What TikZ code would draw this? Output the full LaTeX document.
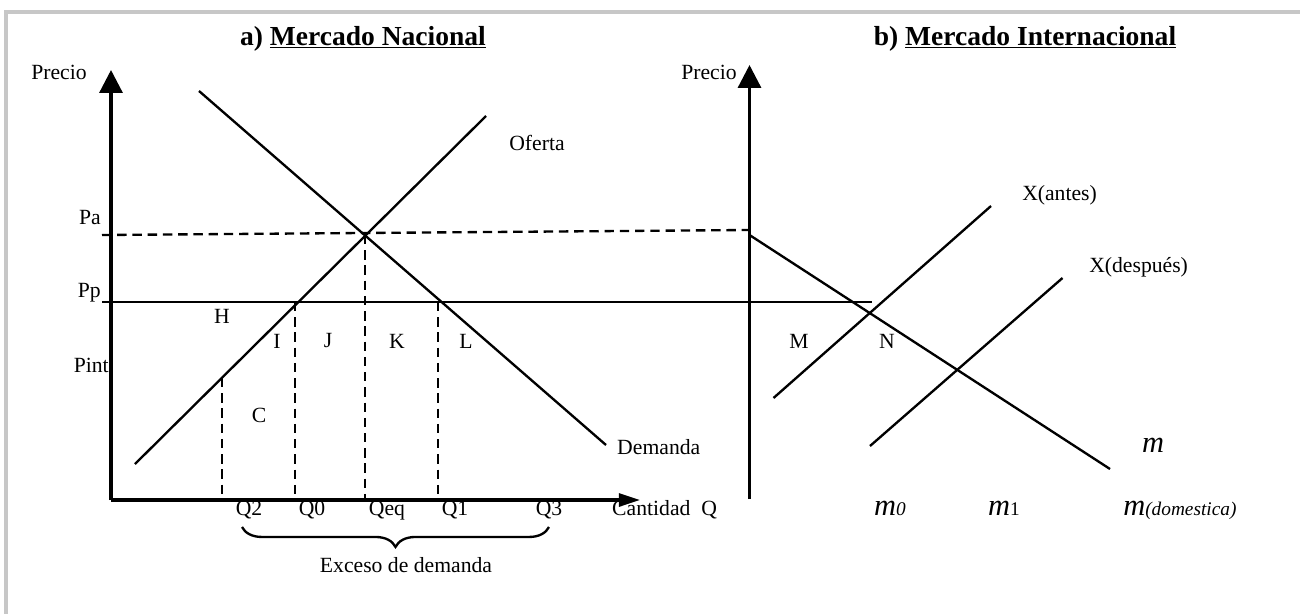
\documentclass[tikz,border=0pt]{standalone}
\usepackage{fontspec}
\setmainfont{Liberation Serif}
\usetikzlibrary{arrows.meta, decorations.pathreplacing}
\tikzset{
	eje/.style={line width=2.8pt, -{Triangle[length=19.6pt,width=19.6pt]}},
	ejeq/.style={line width=2.8pt, -{Triangle[length=18pt,width=11pt]}},
	curva/.style={line width=2pt},
	guia/.style={line width=2pt, dash pattern=on 8pt off 5pt},
	etq/.style={font=\fontsize{18.5}{20}\selectfont, inner sep=0pt},
	titulo/.style={font=\fontsize{23.5}{26}\selectfont\bfseries, inner sep=0pt},
	mgrande/.style={font=\fontsize{26}{28}\selectfont\itshape, inner sep=0pt},
}
\newcommand{\msub}[1]{{\fontsize{16.5}{18}\selectfont #1}}

\begin{document}
\begin{tikzpicture}[x=0.03cm, y=-0.03cm]
			\useasboundingbox (0,0) rectangle (1300,614);
			% marco gris
			\draw[line width=2.6pt, black!22] (1300,12) -- (6,12) -- (6,614);
			\def\ejeA{111}
			\def\ejeB{749.5}
			\def\base{500}
			\def\Pa{235}
			\def\Pp{302}
			% a) mercado nacional
			\coordinate (eq) at (365,\Pa);
			\draw[eje] (\ejeA,\base) -- (\ejeA,70);
			\draw[ejeq] (\ejeA,\base) -- (640,\base);
			\draw[curva] (135,464) -- (486,116);
			\draw[curva] (199,91) -- (606,445);
			\draw[guia] (102,\Pa) -- (\ejeB,230);
			\draw[curva, line width=2.5pt] (102,\Pp) -- (872,\Pp);
			\draw[guia] (222,378) -- (222,\base);
			\draw[guia] (295,\Pp) -- (295,\base);
			\draw[guia] (eq) -- (365,\base);
			\draw[guia] (438,\Pp) -- (438,\base);
			\draw[curva, decorate, decoration={brace, mirror, amplitude=17pt}] (242,527) -- (549,527);
			\node[titulo] (tituloA) at (363,39) {a) \underline{Mercado Nacional}};
			\node[etq] (precioA) at (59,72) {Precio};
			\node[etq] (oferta) at (537,143) {Oferta};
			\node[etq, anchor=east] (pa) at (101,218) {Pa};
			\node[etq, anchor=east] (pp) at (101,293) {Pp};
			\node[etq, anchor=east] (pint) at (109,365) {Pint};
			\node[etq] (h) at (222,316) {H};
			\node[etq] (i) at (277,341) {I};
			\node[etq] (j) at (328,341) {J};
			\node[etq] (k) at (397,341) {K};
			\node[etq] (l) at (466,341) {L};
			\node[etq] (c) at (259,415) {C};
			\node[etq, anchor=base] (q2) at (249,515) {Q2};
			\node[etq, anchor=base] (q0) at (312,515) {Q0};
			\node[etq, anchor=base] (qeq) at (387,515) {Qeq};
			\node[etq, anchor=base] (q1) at (455,515) {Q1};
			\node[etq, anchor=base] (q3) at (549,515) {Q3};
			\node[etq, anchor=base west] (cantidad) at (612,515) {Cantidad\ \ Q};
			\node[etq, anchor=west] (demanda) at (617,447) {Demanda};
			\node[etq] (exceso) at (406,565) {Exceso de demanda};
			% b) mercado internacional
			\draw[eje] (\ejeB,499) -- (\ejeB,65);
			\draw[curva] (\ejeB,\Pa) -- (1110,469);
			\draw[curva] (773.5,398) -- (991,206);
			\draw[curva] (870,446) -- (1062.5,278);
			\node[titulo] (tituloB) at (1025,39) {b) \underline{Mercado Internacional}};
			\node[etq] (precioB) at (709,72) {Precio};
			\node[etq, anchor=west] (xantes) at (1022,195) {X(antes)};
			\node[etq, anchor=west] (xdespues) at (1089,267) {X(después)};
			\node[etq] (m) at (799,341) {M};
			\node[etq] (n) at (887,341) {N};
			\node[mgrande] (mm) at (1153,445) {m};
			\node[mgrande, anchor=base] (m0) at (890,515) {m\msub{0}};
			\node[mgrande, anchor=base] (m1) at (1004,515) {m\msub{\upshape 1}};
			\node[mgrande, anchor=base west] (mdom) at (1123,515) {m\msub{(domestica)}};
		\end{tikzpicture}
\end{document}
